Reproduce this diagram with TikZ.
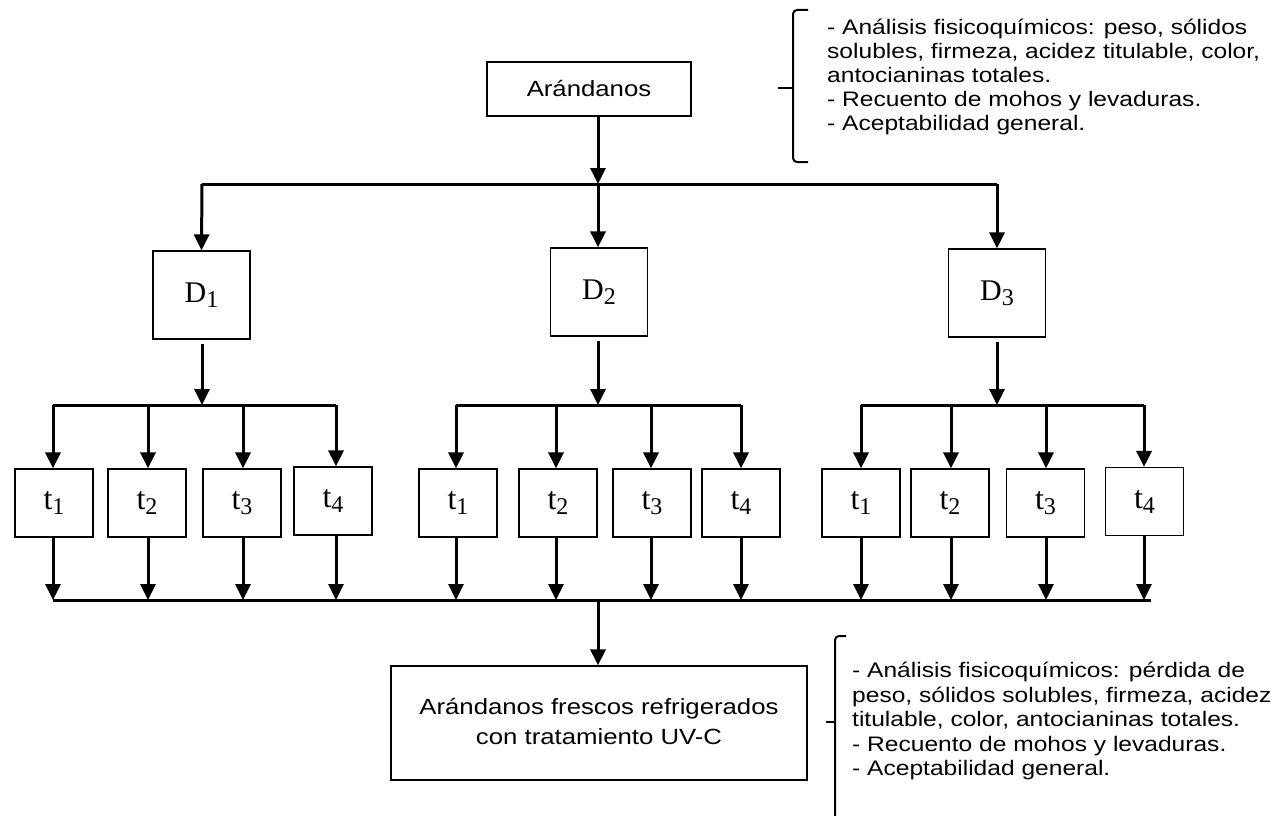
\documentclass[tikz,border=0pt]{standalone}
\usepackage{fontspec}
\usepackage{graphicx}
\setmainfont{Liberation Sans}
\newfontfamily\timesf{Liberation Serif}
\usetikzlibrary{arrows.meta}
\newcommand{\hs}[1]{\scalebox{1.17}[1]{#1}}
\newcommand{\sbs}[1]{\raisebox{-5pt}{\fontsize{24}{26}\selectfont #1}}
\begin{document}
\begin{tikzpicture}[x=1pt,y=-1pt,
  conn/.style={line width=3pt},
  arr/.style={line width=3pt,-{Triangle[width=15pt,length=16pt]}},
  box/.style={draw,line width=1.2pt,inner sep=0pt},
  dbox/.style={box,minimum width=97pt,minimum height=88pt,font=\timesf\fontsize{30}{32}\selectfont},
  tbox/.style={box,minimum width=78pt,minimum height=68pt,font=\timesf\fontsize{32}{34}\selectfont},
  txt/.style={inner sep=0pt},
  brace/.style={line width=2pt,rounded corners=4pt}]
\useasboundingbox (0,0) rectangle (1278,816);
% top box
\node[box,minimum width=204pt,minimum height=54pt,font=\fontsize{22}{24}\selectfont] (top) at (589,89) {\hs{Arándanos}};
% D boxes
\node[dbox] (D1) at (201.5,295) {D\sbs{1}};
\node[dbox] (D2) at (599,292) {D\sbs{2}};
\node[dbox] (D3) at (997,293) {D\sbs{3}};
% t boxes
\foreach \g/\a/\b/\c/\d/\y/\yy in {1/54/147/242/333/503/501, 2/458/558/652/741/503/503, 3/861/950/1045.5/1144.5/503/501.5}{
  \node[tbox] (t\g1) at (\a,\y) {t\sbs{1}};
  \node[tbox] (t\g2) at (\b,\y) {t\sbs{2}};
  \node[tbox] (t\g3) at (\c,\y) {t\sbs{3}};
  \node[tbox] (t\g4) at (\d,\yy) {t\sbs{4}};
}
% bottom box
\node[box,minimum width=416pt,minimum height=114pt,font=\fontsize{22}{30}\selectfont] (fin) at (599,723) {\hs{\begin{tabular}{@{}c@{}}Arándanos frescos refrigerados\\con tratamiento UV-C\end{tabular}}};
% first level
\coordinate (j0) at (598,184);
\coordinate (bL) at (202,184);
\coordinate (bR) at (997,184);
\draw[arr] (top.south -| j0) -- (j0);
\draw[conn] (bL) -- (bR);
\draw[arr] (bL) -- (D1.north);
\draw[arr] (j0) -- (D2.north -| j0);
\draw[arr] (bR) -- (D3.north);
% D to t groups
\foreach \g/\x/\l/\r in {1/202/53/336, 2/598/456/741, 3/997/861/1144}{
  \coordinate (g\g) at (\x,405);
  \coordinate (g\g L) at (\l,405);
  \coordinate (g\g R) at (\r,405);
  \draw[arr] (D\g.south -| g\g) ++(0,4) -- (g\g);
  \draw[conn] (g\g L) -- (g\g R);
}
\coordinate (cL) at (53,600);
\coordinate (cR) at (1151,600);
\coordinate (c0) at (598,600);
\foreach \g/\a/\b/\c/\d in {1/53/148/243/336, 2/456/556/651/741, 3/861/951/1046/1144}{
  \draw[arr] (\a,405) -- (t\g1.north -| \a,0);
  \draw[arr] (\b,405) -- (t\g2.north -| \b,0);
  \draw[arr] (\c,405) -- (t\g3.north -| \c,0);
  \draw[arr] (\d,405) -- (t\g4.north -| \d,0);
  \draw[arr] (t\g1.south -| \a,0) -- (\a,600);
  \draw[arr] (t\g2.south -| \b,0) -- (\b,600);
  \draw[arr] (t\g3.south -| \c,0) -- (\c,600);
  \draw[arr] (t\g4.south -| \d,0) -- (\d,600);
}
\draw[conn] (cL) -- (cR);
\draw[arr] (c0) -- (fin.north -| c0);
% top bracket
\draw[brace] (808,10) -- (793,10) -- (793,162) -- (808,162);
\draw[line width=2pt] (778,88) -- (793,88);
\node[txt,anchor=north west,font=\fontsize{21}{24}\selectfont] (info1) at (827,17.7) {\hs{\begin{tabular}{@{}l@{}}- Análisis fisicoquímicos: peso, sólidos\\solubles, firmeza, acidez titulable, color,\\antocianinas totales.\\- Recuento de mohos y levaduras.\\- Aceptabilidad general.\end{tabular}}};
% bottom bracket
\draw[brace] (846,636) -- (835,636) -- (835,816);
\draw[line width=2pt] (826,722) -- (835,722);
\node[txt,anchor=north west,font=\fontsize{21}{24.5}\selectfont] (info2) at (852,660.5) {\hs{\begin{tabular}{@{}l@{}}- Análisis fisicoquímicos: pérdida de\\peso, sólidos solubles, firmeza, acidez\\titulable, color, antocianinas totales.\\- Recuento de mohos y levaduras.\\- Aceptabilidad general.\end{tabular}}};
\end{tikzpicture}
\end{document}
